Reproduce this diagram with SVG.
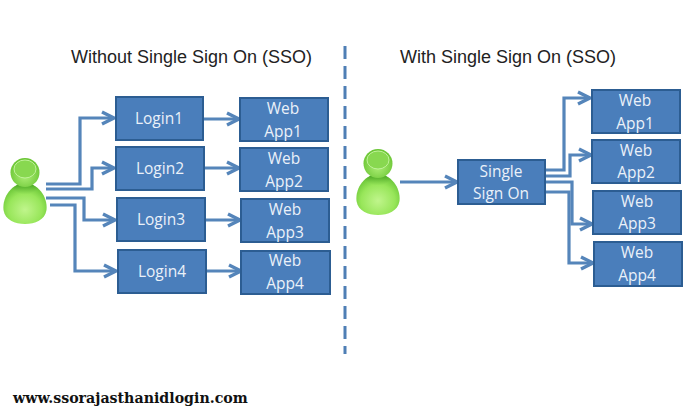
<svg xmlns="http://www.w3.org/2000/svg" width="700" height="420" viewBox="0 0 700 420">
<style>
.box{fill:#4a7ebb;stroke:#2c5d92;stroke-width:2}
.lbl{font-family:"Open Sans","Liberation Sans",sans-serif;font-size:15.5px;fill:#eaf1f9;text-anchor:middle}
.title{font-family:"Liberation Sans",Arial,sans-serif;font-size:18px;fill:#222}
.wire{fill:none;stroke:#5585ba;stroke-width:3.2}
.head{fill:none;stroke:#5585ba;stroke-width:3.4}
</style>
<defs>
<radialGradient id="bodyFill" cx="50%" cy="65%" r="65%">
<stop offset="0" stop-color="#c0f58c"/><stop offset="0.6" stop-color="#98e65a"/><stop offset="1" stop-color="#62c030"/>
</radialGradient>
<radialGradient id="headFill" cx="50%" cy="60%" r="60%">
<stop offset="0" stop-color="#b0f078"/><stop offset="1" stop-color="#68c432"/>
</radialGradient>
<linearGradient id="shade" x1="0" y1="0" x2="0" y2="1">
<stop offset="0" stop-color="#3f9e1c"/><stop offset="1" stop-color="#98e65a"/>
</linearGradient>
<g id="person">
<path d="M-21.500 52C-23 38-12 25 0 25C12 25 23 38 21.500 52C20 62 10 66 0 66C-10 66-20 62-21.500 52Z" fill="url(#bodyFill)"/>
<path d="M-13 31C-6 23 6 23 13 31C7 38-7 38-13 31Z" fill="url(#shade)"/>
<circle cx="0" cy="14.500" r="14.500" fill="url(#headFill)"/>
<ellipse cx="0" cy="11" rx="11" ry="9" fill="#88d850" stroke="#c0f29a" stroke-width="1"/>
</g>
</defs>

<text class="title" x="71" y="63">Without Single Sign On (SSO)</text>
<text class="title" x="400" y="63">With Single Sign On (SSO)</text>
<line x1="345" y1="46" x2="345" y2="354" stroke="#4f7fb5" stroke-width="3" stroke-dasharray="13 7"/>

<g id="connectors">
<path class="wire" d="M46 184H80V118H112"/>
<path class="wire" d="M46 189H92V168H112"/>
<path class="wire" d="M46 198H84V220H113"/>
<path class="wire" d="M50 205H75V271H114"/>
<path class="wire" d="M204 119H237M205 168H237M206 220H238M207 271H239"/>
<path class="wire" d="M400 182H455"/>
<path class="wire" d="M546 170H564V98H588"/>
<path class="wire" d="M546 176H570V155H589"/>
<path class="wire" d="M546 182H572V224H590"/>
<path class="wire" d="M546 192H569V263H591"/>
<path class="head" d="M102 112L114 118L102 124M102 162L114 168L102 174M103 214L115 220L103 226M104 265L116 271L104 277"/>
<path class="head" d="M227 113L239 119L227 125M227 162L239 168L227 174M228 214L240 220L228 226M229 265L241 271L229 277"/>
<path class="head" d="M445 176L457 182L445 188"/>
<path class="head" d="M578 92L590 98L578 104M579 149L591 155L579 161M580 218L592 224L580 230M581 257L593 263L581 269"/>
</g>

<g id="user-left"><use href="#person" x="25" y="158"/></g>
<g id="user-right"><use href="#person" x="378" y="149"/></g>

<g id="login1"><rect class="box" x="116" y="97" width="87" height="43"/><text class="lbl" x="159" y="124">Login1</text></g>
<g id="login2"><rect class="box" x="116" y="147" width="88" height="43"/><text class="lbl" x="160" y="174">Login2</text></g>
<g id="login3"><rect class="box" x="117" y="198" width="88" height="43"/><text class="lbl" x="161" y="225">Login3</text></g>
<g id="login4"><rect class="box" x="118" y="250" width="88" height="43"/><text class="lbl" x="162" y="277">Login4</text></g>

<g id="web1"><rect class="box" x="240" y="98" width="88" height="43"/><text class="lbl" x="283" y="114">Web</text><text class="lbl" x="283" y="137">App1</text></g>
<g id="web2"><rect class="box" x="240" y="148" width="88" height="43"/><text class="lbl" x="284" y="164">Web</text><text class="lbl" x="284" y="187">App2</text></g>
<g id="web3"><rect class="box" x="241" y="199" width="88" height="43"/><text class="lbl" x="285" y="215">Web</text><text class="lbl" x="285" y="238">App3</text></g>
<g id="web4"><rect class="box" x="241" y="251" width="89" height="43"/><text class="lbl" x="285" y="266">Web</text><text class="lbl" x="285" y="289">App4</text></g>

<g id="sso"><rect class="box" x="458" y="160" width="87" height="44"/><text class="lbl" x="501" y="177">Single</text><text class="lbl" x="501" y="199">Sign On</text></g>

<g id="sso-web1"><rect class="box" x="592" y="90" width="88" height="43"/><text class="lbl" x="635" y="106">Web</text><text class="lbl" x="635" y="129">App1</text></g>
<g id="sso-web2"><rect class="box" x="592" y="140" width="88" height="43"/><text class="lbl" x="636" y="156">Web</text><text class="lbl" x="636" y="178">App2</text></g>
<g id="sso-web3"><rect class="box" x="593" y="191" width="88" height="43"/><text class="lbl" x="637" y="207">Web</text><text class="lbl" x="637" y="229">App3</text></g>
<g id="sso-web4"><rect class="box" x="594" y="242" width="88" height="44"/><text class="lbl" x="637" y="258">Web</text><text class="lbl" x="637" y="281">App4</text></g>

<text x="13" y="403" font-family="'DejaVu Serif','Liberation Serif',serif" font-weight="bold" font-size="14.2" fill="#111">www.ssorajasthanidlogin.com</text>
</svg>
